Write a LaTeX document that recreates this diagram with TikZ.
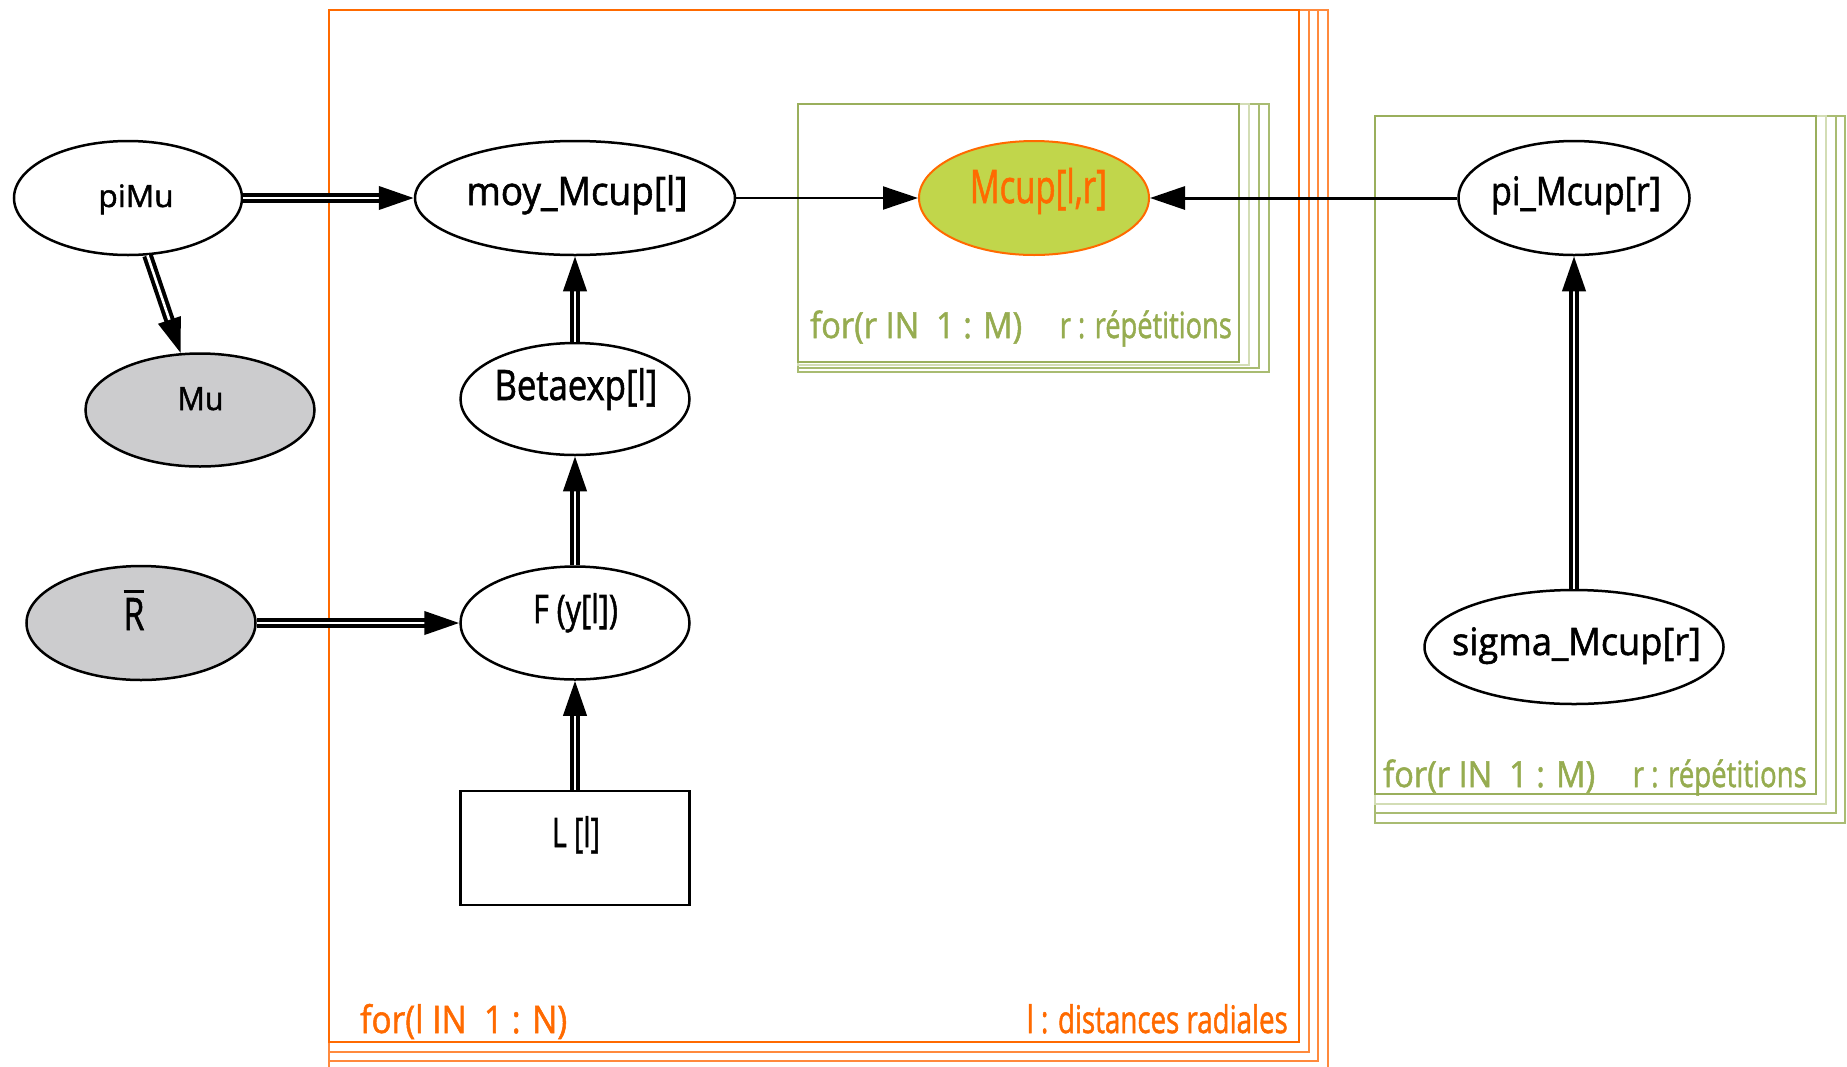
\documentclass[tikz,border=0pt]{standalone}
\usepackage{fontspec}
\setmainfont{Open Sans}[FakeBold=1.5,AutoFakeBold=1.5]
\usepackage{graphicx}
\usetikzlibrary{shapes.geometric,arrows.meta}
\definecolor{orF}{HTML}{FF6A00}
\definecolor{orB}{HTML}{FF8A3D}
\definecolor{grF}{HTML}{9AAF5C}
\definecolor{grL}{HTML}{D3DDB5}
\definecolor{grM}{HTML}{A9BC72}
\definecolor{grT}{HTML}{96AC50}
\definecolor{obsgray}{HTML}{CCCCCE}
\definecolor{mfill}{HTML}{C1D64B}
\newlength\fxlen
\newcommand\fitx[2]{\settowidth{\fxlen}{#2}\pgfmathsetmacro\fxr{#1/\fxlen}\scalebox{\fxr}[1]{#2}}
\newcommand\tx[3]{{\fontsize{#1pt}{#1pt}\selectfont\bfseries\fitx{#2}{#3}}}
\newcommand\rbarsym{\setbox0\hbox{R}\rlap{\raisebox{\dimexpr\ht0+5pt\relax}{\rule{\wd0}{3pt}}}R}
\tikzset{
  ell/.style={ellipse, draw=black, line width=2.5pt, fill=white, inner sep=0pt},
  obs/.style={ell, fill=obsgray},
  lbl/.style={inner sep=0pt, anchor=base},
  plateF/.style={draw=orF, line width=2.2pt},
  plateB/.style={draw=orB, line width=2pt},
  gplF/.style={draw=grF, line width=1.8pt},
  gplL/.style={draw=grL, line width=1.8pt},
  gplM/.style={draw=grM, line width=1.8pt},
  dbl/.style={draw=black, double=white, double distance=2.6pt, line width=4pt, -{Triangle[length=35pt,width=23pt]}},
  sgl/.style={draw=black, -{Triangle[length=35pt,width=23pt]}},
}
\begin{document}
\begin{tikzpicture}[x=1pt,y=-1pt]
\useasboundingbox (0,0) rectangle (1847,1066);
% orange plate
\draw[plateB] (329,10) rectangle (1328,1071);
\draw[plateB] (329,10) rectangle (1318,1061);
\draw[plateB] (329,10) rectangle (1309,1052);
\draw[plateF] (329,10) rectangle (1299,1042);
% green plate 1
\draw[gplM] (798,104) rectangle (1269,372);
\draw[gplM] (798,104) rectangle (1259,368);
\draw[gplL] (798,104) rectangle (1249,365);
\draw[gplF] (798,104) rectangle (1239,362);
% green plate 2
\draw[gplM] (1375,116) rectangle (1845,823);
\draw[gplM] (1375,116) rectangle (1836,813);
\draw[gplL] (1375,116) rectangle (1826,804);
\draw[gplF] (1375,116) rectangle (1816,794);
% plate labels
\node[lbl, anchor=base west, text=orF] (lpa) at (360,1033) {\tx{38}{207}{for(l IN\ \ 1 : N)}};
\node[lbl, anchor=base east, text=orF] (lpb) at (1288,1033) {\tx{38}{261}{l : distances radiales}};
\node[lbl, anchor=base west, text=grT] (gpa) at (810,338) {\tx{36}{212}{for(r IN\ \ 1 : M)}};
\node[lbl, anchor=base east, text=grT] (gpb) at (1232,338) {\tx{36}{172}{r : répétitions}};
\node[lbl, anchor=base west, text=grT] (gqa) at (1383,787) {\tx{36}{212}{for(r IN\ \ 1 : M)}};
\node[lbl, anchor=base east, text=grT] (gqb) at (1807,787) {\tx{36}{174}{r : répétitions}};
% nodes
\node[ell, minimum width=228pt, minimum height=114pt] (piMu) at (128,198) {};
\node[lbl] (piMuT) at (136,207) {\tx{30.8}{75}{piMu}};
\node[obs, minimum width=229pt, minimum height=113pt] (Mu) at (200,410) {};
\node[lbl] (MuT) at (200.5,410) {\tx{32.2}{46}{Mu}};
\node[obs, minimum width=229pt, minimum height=114pt] (Rbar) at (141,623) {};
\node[lbl] (RbarT) at (134,630) {{\fontsize{44.8pt}{45pt}\selectfont\bfseries\scalebox{0.75}[1]{\rbarsym}}};
\node[ell, minimum width=320pt, minimum height=114pt] (moy) at (575,198) {};
\node[lbl] (moyT) at (577,205) {\tx{39.2}{221}{moy\_Mcup[l]}};
\node[ell, minimum width=229pt, minimum height=112pt] (Beta) at (575,399) {};
\node[lbl] (BetaT) at (576,400) {\tx{42}{163}{Betaexp[l]}};
\node[ell, minimum width=229pt, minimum height=113pt] (F) at (575,623) {};
\node[lbl] (FT) at (575.5,623) {\tx{39.2}{85}{F (y[l])}};
\node[draw=black, line width=2.5pt, fill=white, minimum width=229pt, minimum height=114pt, inner sep=0pt] (L) at (575,848) {};
\node[lbl] (LT) at (576,847) {\tx{40.6}{48}{L [l]}};
\node[ell, draw=orF, line width=2pt, fill=mfill, minimum width=230pt, minimum height=114pt] (Mcup) at (1034,198) {};
\node[lbl, text=orF] (McupT) at (1038.5,203) {\tx{46.2}{137}{Mcup[l,r]}};
\node[ell, minimum width=231pt, minimum height=114pt] (piM) at (1574,198) {};
\node[lbl] (piMT) at (1576,205) {\tx{39.2}{170}{pi\_Mcup[r]}};
\node[ell, minimum width=299pt, minimum height=114pt] (sigma) at (1574,647) {};
\node[lbl] (sigmaT) at (1576.5,655) {\tx{37.8}{249}{sigma\_Mcup[r]}};
% edges
\draw[dbl] (piMu) -- (moy);
\draw[dbl] (piMu) -- (Mu);
\draw[dbl] (Beta) -- (moy);
\draw[dbl] (F) -- (Beta);
\draw[dbl] (L) -- (F);
\draw[dbl] (Rbar) -- (F);
\draw[sgl, line width=2pt] (moy) -- (Mcup);
\draw[sgl, line width=3pt] (piM) -- (Mcup);
\draw[dbl] (sigma) -- (piM);
\end{tikzpicture}
\end{document}
